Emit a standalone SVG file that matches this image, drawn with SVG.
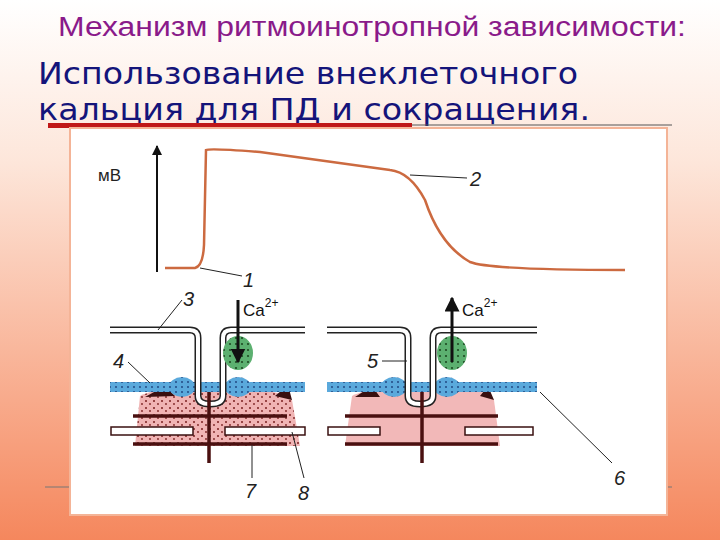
<svg xmlns="http://www.w3.org/2000/svg" width="720" height="540" viewBox="0 0 720 540">
<defs>
<linearGradient id="bg" x1="0" y1="0" x2="0" y2="1"><stop offset="0" stop-color="#ffffff"/><stop offset="0.3" stop-color="#fde6da"/><stop offset="1" stop-color="#f5875d"/></linearGradient>
<pattern id="dots" width="8" height="7" patternUnits="userSpaceOnUse"><rect width="8" height="7" fill="#f0b4b4"/><circle cx="2" cy="2" r="1" fill="#7a2020"/><circle cx="6" cy="5" r="0.9" fill="#7a2020"/></pattern>
<pattern id="bdots" width="6" height="5" patternUnits="userSpaceOnUse"><rect width="6" height="5" fill="#5aa9dc"/><circle cx="2" cy="2" r="0.9" fill="#1b3f7a"/></pattern>
<pattern id="gdots" width="6" height="6" patternUnits="userSpaceOnUse"><rect width="6" height="6" fill="#5cb070"/><circle cx="2" cy="2" r="1.1" fill="#1d4a22"/></pattern>
<marker id="ah" viewBox="0 0 10 10" refX="9" refY="5" markerWidth="5" markerHeight="5" orient="auto"><path d="M0,0L10,5L0,10z" fill="#111"/></marker>
</defs>
<style>
.lbl{font-family:"Liberation Sans",Arial,sans-serif;font-style:italic;font-size:20px;fill:#222}
.ld{stroke:#222;stroke-width:1;fill:none}
.bar{stroke:#4a1010;stroke-width:3.5}
.wb{fill:#fff;stroke:#3a1010;stroke-width:1.5}
</style>
<rect width="720" height="540" fill="url(#bg)"/>
<text x="58" y="36" textLength="628" lengthAdjust="spacingAndGlyphs" font-family="Liberation Sans,Arial,sans-serif" font-size="27" fill="#8a1a8a">Механизм ритмоинотропной зависимости:</text>
<text x="38" y="84" textLength="540" lengthAdjust="spacingAndGlyphs" font-family="DejaVu Sans,sans-serif" font-size="31" fill="#14147a">Использование внеклеточного</text>
<text x="38" y="120" textLength="552" lengthAdjust="spacingAndGlyphs" font-family="DejaVu Sans,sans-serif" font-size="31" fill="#14147a">кальция для ПД и сокращения.</text>
<line x1="48" y1="125" x2="672" y2="125" stroke="#555" stroke-width="1"/>
<rect x="48" y="123" width="364" height="5" fill="#c01818"/>
<line x1="45" y1="487" x2="672" y2="487" stroke="#777" stroke-width="1"/>
<rect x="70" y="128" width="597" height="387" fill="#fff" stroke="#f4b497" stroke-width="2"/>
<g id="graph">
<line x1="157" y1="272" x2="157" y2="146" stroke="#111" stroke-width="2" marker-end="url(#ah)"/>
<text x="98" y="181" font-family="Liberation Sans,Arial,sans-serif" font-size="17" fill="#222">мВ</text>
<path d="M165,268 L195,268 Q203,266 204,245 L206,150 Q210,148 260,152 L390,170 Q410,172 425,200 Q440,245 470,262 Q490,270 625,270" fill="none" stroke="#cc6a40" stroke-width="2.5"/>
<text x="243" y="287" class="lbl">1</text><path class="ld" d="M242,276 L200,268"/>
<text x="470" y="186" class="lbl">2</text><path class="ld" d="M467,178 L410,175"/>
</g>
<g id="left">
<path d="M140,396 Q150,390 175,390 L250,390 Q280,390 292,400 L300,446 L135,446 Z" fill="url(#dots)"/>
<path d="M145,397 L165,386 L175,396 Z M275,396 L288,385 L292,400 Z" fill="#3a1010"/>
<rect x="110" y="382" width="195" height="10" fill="url(#bdots)"/>
<ellipse cx="182" cy="387" rx="13" ry="10" fill="url(#bdots)"/><ellipse cx="238" cy="387" rx="13" ry="10" fill="url(#bdots)"/>
<path d="M110,330 L190,330 Q198,330 198,338 L198,396 Q198,404 210,404 Q223,404 223,396 L223,338 Q223,330 231,330 L305,330" fill="none" stroke="#222" stroke-width="7"/>
<path d="M110,330 L190,330 Q198,330 198,338 L198,396 Q198,404 210,404 Q223,404 223,396 L223,338 Q223,330 231,330 L305,330" fill="none" stroke="#fff" stroke-width="4"/>
<ellipse cx="238" cy="353" rx="15" ry="17" fill="url(#gdots)"/>
<line x1="238" y1="300" x2="238" y2="362" stroke="#111" stroke-width="3" marker-end="url(#ah)"/>
<text x="243" y="316" font-family="Liberation Sans,Arial,sans-serif" font-size="17" fill="#111">Ca<tspan dy="-9" font-size="12">2+</tspan></text>
<line class="bar" x1="133" y1="416" x2="287" y2="416"/><line class="bar" x1="133" y1="444" x2="287" y2="444"/>
<line class="bar" x1="209" y1="392" x2="209" y2="463"/>
<rect class="wb" x="111" y="427" width="82" height="8"/><rect class="wb" x="225" y="427" width="80" height="8"/>
<text x="183" y="306" class="lbl">3</text><path class="ld" d="M182,300 L158,330"/>
<text x="113" y="368" class="lbl">4</text><path class="ld" d="M128,362 L150,383"/>
<text x="245" y="498" class="lbl">7</text><path class="ld" d="M252,445 L252,478"/>
<text x="298" y="500" class="lbl">8</text><path class="ld" d="M304,478 L292,432"/>
</g>
<g id="right">
<path d="M352,396 Q362,390 385,390 L462,390 Q488,390 494,400 L500,446 L345,446 Z" fill="#f2b8b8"/>
<path d="M355,397 L372,386 L380,397 Z M480,396 L488,386 L494,400 Z" fill="#3a1010"/>
<rect x="327" y="382" width="210" height="10" fill="url(#bdots)"/>
<ellipse cx="394" cy="387" rx="13" ry="10" fill="url(#bdots)"/><ellipse cx="447" cy="387" rx="13" ry="10" fill="url(#bdots)"/>
<path d="M327,330 L400,330 Q408,330 408,338 L408,396 Q408,404 420,404 Q433,404 433,396 L433,338 Q433,330 441,330 L537,330" fill="none" stroke="#222" stroke-width="7"/>
<path d="M327,330 L400,330 Q408,330 408,338 L408,396 Q408,404 420,404 Q433,404 433,396 L433,338 Q433,330 441,330 L537,330" fill="none" stroke="#fff" stroke-width="4"/>
<ellipse cx="452" cy="353" rx="15" ry="17" fill="url(#gdots)"/>
<line x1="452" y1="362" x2="452" y2="298" stroke="#111" stroke-width="3" marker-end="url(#ah)"/>
<text x="462" y="316" font-family="Liberation Sans,Arial,sans-serif" font-size="17" fill="#111">Ca<tspan dy="-9" font-size="12">2+</tspan></text>
<line class="bar" x1="345" y1="416" x2="498" y2="416"/><line class="bar" x1="345" y1="444" x2="498" y2="444"/>
<line class="bar" x1="422" y1="392" x2="422" y2="463"/>
<rect class="wb" x="328" y="427" width="52" height="8"/><rect class="wb" x="465" y="427" width="68" height="8"/>
<text x="367" y="368" class="lbl">5</text><path class="ld" d="M382,361 L407,361"/>
<text x="614" y="485" class="lbl">6</text><path class="ld" d="M612,463 L540,392"/>
</g>
</svg>
